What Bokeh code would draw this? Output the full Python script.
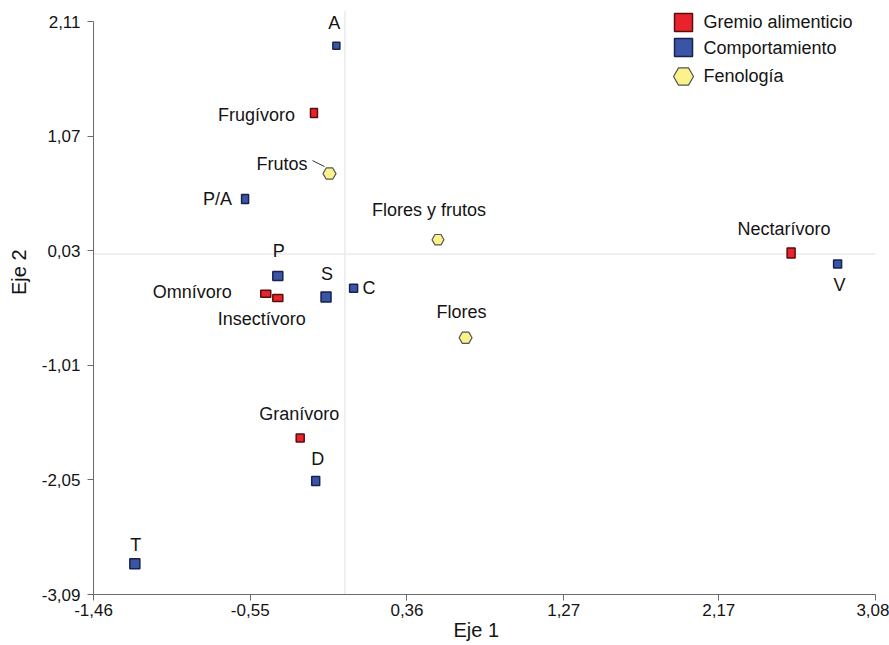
import math
from bokeh.plotting import figure
from bokeh.models import Range1d, FixedTicker, Span, ColumnDataSource, Title
from bokeh.core.properties import value
from bokeh.embed import file_html
from bokeh.resources import INLINE

# ---------------- data ----------------
labels = ["A", "Frugívoro", "Frutos", "P/A", "Flores y frutos", "Nectarívoro", "V", "P",
          "C", "Omnívoro", "Insectívoro", "S", "Flores", "Granívoro", "D", "T"]
groups = ["Comportamiento", "Gremio alimenticio", "Fenología", "Comportamiento", "Fenología",
          "Gremio alimenticio", "Comportamiento", "Comportamiento", "Comportamiento",
          "Gremio alimenticio", "Gremio alimenticio", "Comportamiento", "Fenología",
          "Gremio alimenticio", "Comportamiento", "Comportamiento"]
eje1 = [-0.05, -0.18, -0.09, -0.58, 0.54, 2.59, 2.86, -0.39, 0.05, -0.46, -0.39, -0.11, 0.70, -0.26, -0.17, -1.22]
eje2 = [1.89, 1.28, 0.73, 0.50, 0.13, 0.01, -0.09, -0.20, -0.31, -0.36, -0.40, -0.39, -0.76, -1.67, -2.06, -2.81]

x_ticks = [-1.46, -0.55, 0.36, 1.27, 2.17, 3.08]
x_tick_labels = ["-1,46", "-0,55", "0,36", "1,27", "2,17", "3,08"]
y_ticks = [-3.09, -2.05, -1.01, 0.03, 1.07, 2.11]
y_tick_labels = ["-3,09", "-2,05", "-1,01", "0,03", "1,07", "2,11"]
legend_labels = ["Gremio alimenticio", "Comportamiento", "Fenología"]
x_title = "Eje 1"
y_title = "Eje 2"

# ---------------- styles ----------------
fill_colors = {"Gremio alimenticio": "#e8232b", "Comportamiento": "#3b55a6", "Fenología": "#fbf28c"}
line_colors = {"Gremio alimenticio": "#5a0d0d", "Comportamiento": "#17224f", "Fenología": "#555555"}
marker_w = [7, 7, 13, 7, 12, 8, 8, 10, 8, 10, 10, 10, 13, 8, 8, 10]
marker_h = [7, 9, 13, 9, 12, 10, 8, 9, 8, 7, 7, 10, 13, 8, 9, 10]
label_dx = [-2, -19, -22, -13, -9, -7, 2, 1, 9, -34, -16, 1, -4, -1, 2, 1]
label_dy = [-23, 2, -10, 0, -30, -24, 21, -25, 0, -2, 21, -23, -26, -24, -22, -19]
label_align = ["center", "right", "right", "right", "center", "center", "center", "center",
               "left", "right", "center", "center", "center", "center", "center", "center"]

FONT = "Liberation Sans"
TXT = "#141414"
XR = (-1.46, 3.08)
YR = (-3.09, 2.21)
FW, FH = 782, 584
LEFT, TOP = 93, 10

p = figure(frame_width=FW, frame_height=FH, x_range=Range1d(*XR), y_range=Range1d(*YR),
           output_backend="svg", toolbar_location=None,
           min_border_left=LEFT, min_border_right=14, min_border_top=TOP, min_border_bottom=51)
p.outline_line_color = None
p.grid.visible = False
p.background_fill_color = "white"
p.border_fill_color = "white"

# reference lines
for dim in ("height", "width"):
    p.add_layout(Span(location=0, dimension=dim, line_color="#ebebeb", line_width=1.5, level="underlay"))

# axes
for ax, ticks, tl in ((p.xaxis[0], x_ticks, x_tick_labels), (p.yaxis[0], y_ticks, y_tick_labels)):
    ax.ticker = FixedTicker(ticks=ticks)
    ax.major_label_overrides = {t: s for t, s in zip(ticks, tl)}
    ax.bounds = (ticks[0], ticks[-1])
    ax.axis_line_color = "#6a6a6a"
    ax.major_tick_line_color = "#6a6a6a"
    ax.major_tick_out = 6
    ax.major_tick_in = 0
    ax.minor_tick_line_color = None
    ax.major_label_text_font = FONT
    ax.major_label_text_font_size = "17px"
    ax.major_label_text_color = TXT
p.xaxis.major_label_standoff = 3
p.yaxis.major_label_standoff = 7

p.add_layout(Title(text=x_title, align="left", offset=360, standoff=0, vertical_align="top",
                   text_font=FONT, text_font_size="20px", text_font_style="normal",
                   text_color=TXT), "below")
p.add_layout(Title(text=y_title, align="right", offset=239, standoff=14, vertical_align="top",
                   text_font=FONT, text_font_size="20px", text_font_style="normal",
                   text_color=TXT), "left")

# points
for g in legend_labels:
    idx = [i for i, gg in enumerate(groups) if gg == g]
    src = ColumnDataSource(dict(x=[eje1[i] for i in idx], y=[eje2[i] for i in idx],
                                w=[marker_w[i] for i in idx], h=[marker_h[i] for i in idx]))
    if g == "Fenología":
        p.scatter("x", "y", source=src, marker="hex", size="w", fill_color=fill_colors[g],
                  line_color=line_colors[g], line_width=1.2)
    else:
        p.rect("x", "y", width="w", height="h", width_units="screen", height_units="screen",
               source=src, fill_color=fill_colors[g], line_color=line_colors[g], line_width=1.5)

# point labels
for al in ("left", "center", "right"):
    idx = [i for i, a in enumerate(label_align) if a == al]
    src = ColumnDataSource(dict(x=[eje1[i] for i in idx], y=[eje2[i] for i in idx],
                                t=[labels[i] for i in idx], dx=[label_dx[i] for i in idx],
                                dy=[label_dy[i] for i in idx]))
    p.text("x", "y", text="t", x_offset="dx", y_offset="dy", source=src, text_align=al,
           text_baseline="middle", text_font=value(FONT), text_font_size="18px", text_color=TXT)

# leader line for "Frutos"
i = labels.index("Frutos")
ux = (XR[1] - XR[0]) / FW
uy = (YR[1] - YR[0]) / FH
p.segment(x0=[eje1[i] - 17 * ux], y0=[eje2[i] + 13 * uy], x1=[eje1[i] - 5 * ux], y1=[eje2[i] + 7 * uy],
          line_color="#333333", line_width=1)

# legend (frame-relative coordinates)
p.extra_x_ranges = {"lx": Range1d(0, 1)}
p.extra_y_ranges = {"ly": Range1d(0, 1)}
leg_x = 0.7545
leg_tx = 0.7801
leg_y = [0.9795, 0.9366, 0.8870]
for g, yy in zip(legend_labels, leg_y):
    if g == "Fenología":
        p.scatter([leg_x], [yy], marker="hex", size=20, fill_color=fill_colors[g],
                  line_color=line_colors[g], line_width=1.2, x_range_name="lx", y_range_name="ly")
    else:
        p.rect([leg_x], [yy], width=18, height=18, width_units="screen", height_units="screen",
               fill_color=fill_colors[g], line_color=line_colors[g], line_width=1.5,
               x_range_name="lx", y_range_name="ly")
p.text([leg_tx] * 3, leg_y, text=legend_labels, text_align="left", text_baseline="middle",
       text_font=value(FONT), text_font_size="18px", text_color=TXT,
       x_range_name="lx", y_range_name="ly")

open("out.html", "w").write(file_html(p, INLINE))
